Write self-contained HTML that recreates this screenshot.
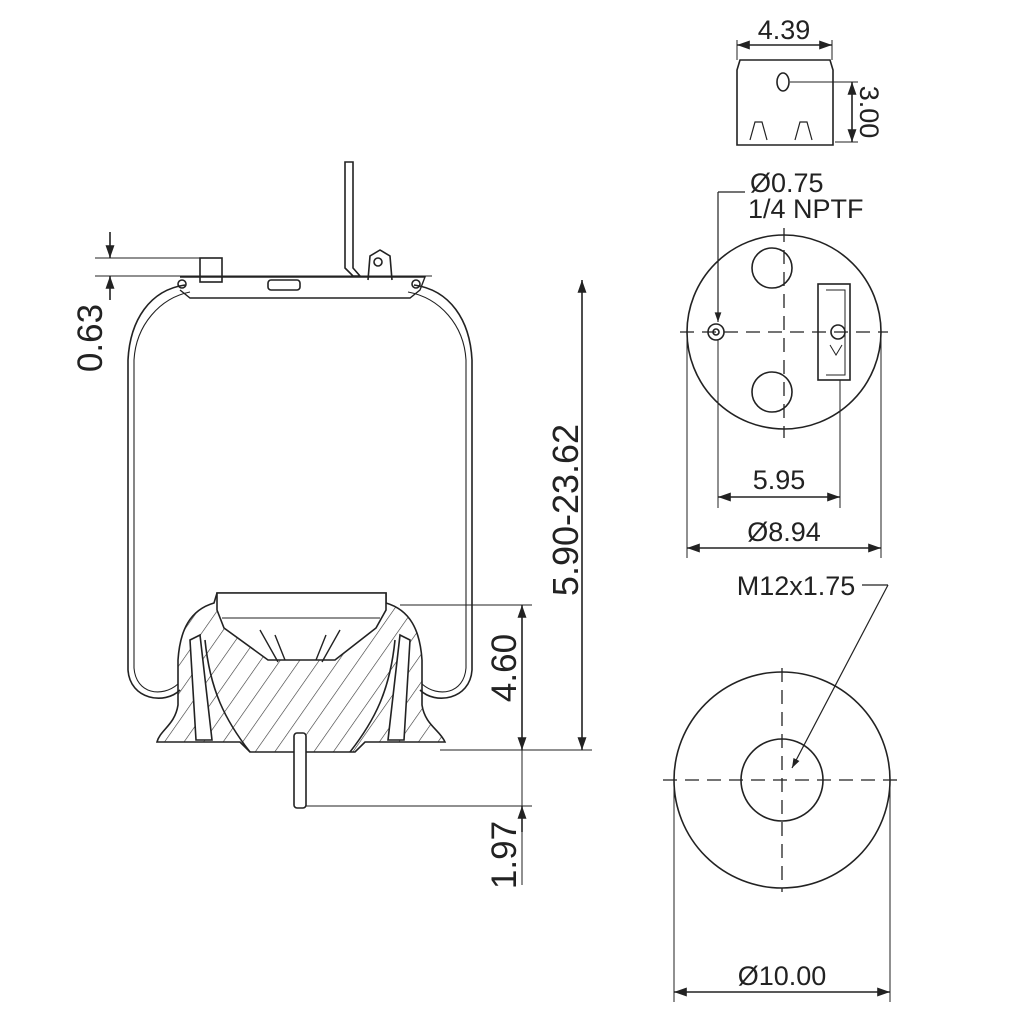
<!DOCTYPE html>
<html><head><style>body{margin:0;background:#fff}svg{display:block}</style></head><body>
<svg width="1024" height="1024" viewBox="0 0 1024 1024" xmlns="http://www.w3.org/2000/svg" font-family="Liberation Sans, sans-serif">
<defs>
<marker id="a" viewBox="0 0 10 10" refX="10" refY="5" markerWidth="10" markerHeight="8" orient="auto-start-reverse"><path d="M0,1.5L10,5L0,8.5z" fill="#222"/></marker>
<pattern id="h" width="16" height="16" patternUnits="userSpaceOnUse" patternTransform="rotate(35)"><line x1="0" y1="0" x2="0" y2="16" stroke="#333" stroke-width="1.2"/></pattern>
</defs>
<g fill="none" stroke="#222" stroke-width="1.6">
<path d="M737,70 L740,60 L830,60 L833,70 L833,145 L737,145 Z"/>
<ellipse cx="783" cy="82" rx="6" ry="9"/>
<path d="M750,140 L755,122 L762,122 L767,140 M795,140 L800,122 L807,122 L812,140" stroke-width="1.2"/>
<line x1="737" y1="45" x2="832" y2="45" marker-start="url(#a)" marker-end="url(#a)"/>
<line x1="737" y1="40" x2="737" y2="60" stroke-width="1"/><line x1="832" y1="40" x2="832" y2="60" stroke-width="1"/>
<line x1="790" y1="82" x2="858" y2="82" stroke-width="1"/><line x1="835" y1="142" x2="858" y2="142" stroke-width="1"/>
<line x1="852" y1="82" x2="852" y2="142" marker-start="url(#a)" marker-end="url(#a)"/>
<circle cx="784" cy="332" r="97"/>
<circle cx="772" cy="268" r="20"/><circle cx="772" cy="392" r="20"/>
<circle cx="716" cy="332" r="8"/><circle cx="716" cy="332" r="3"/>
<rect x="818" y="284" width="32" height="96"/>
<path d="M826,290 L845,290 L845,375 L826,375" stroke-width="1"/>
<circle cx="838" cy="332" r="7"/>
<path d="M830,345 L836,355 L842,345" stroke-width="1"/>
<line x1="680" y1="332" x2="888" y2="332" stroke-dasharray="14,8" stroke-width="1.3"/>
<line x1="784" y1="228" x2="784" y2="438" stroke-dasharray="14,8" stroke-width="1.3"/>
<line x1="745" y1="192" x2="718" y2="192" stroke-width="1.2"/>
<line x1="718" y1="192" x2="718" y2="322" marker-end="url(#a)" stroke-width="1.2"/>
<line x1="718" y1="340" x2="718" y2="508" stroke-width="1"/>
<line x1="840" y1="380" x2="840" y2="508" stroke-width="1"/>
<line x1="718" y1="497" x2="840" y2="497" marker-start="url(#a)" marker-end="url(#a)"/>
<line x1="687" y1="335" x2="687" y2="558" stroke-width="1"/>
<line x1="881" y1="335" x2="881" y2="558" stroke-width="1"/>
<line x1="687" y1="548" x2="881" y2="548" marker-start="url(#a)" marker-end="url(#a)"/>
<circle cx="782" cy="780" r="108"/>
<circle cx="782" cy="780" r="41"/>
<line x1="663" y1="780" x2="900" y2="780" stroke-dasharray="14,8" stroke-width="1.3"/>
<line x1="782" y1="668" x2="782" y2="892" stroke-dasharray="14,8" stroke-width="1.3"/>
<line x1="862" y1="585" x2="888" y2="585" stroke-width="1.2"/>
<line x1="888" y1="585" x2="792" y2="768" marker-end="url(#a)" stroke-width="1.2"/>
<line x1="674" y1="780" x2="674" y2="1002" stroke-width="1"/>
<line x1="890" y1="780" x2="890" y2="1002" stroke-width="1"/>
<line x1="674" y1="992" x2="890" y2="992" marker-start="url(#a)" marker-end="url(#a)"/>
<path d="M345,162 L345,268 L353,276 L360,276 L353,268 L353,162 Z"/>
<path d="M180,277 L425,277 L420,290 L410,298 L190,298 L180,290" stroke-width="1.4"/>
<rect x="200" y="258" width="22" height="24"/>
<rect x="268" y="280" width="32" height="10" rx="3"/>
<path d="M368,280 L370,256 L380,250 L390,256 L392,280" />
<circle cx="378" cy="262" r="4"/>
<circle cx="182" cy="284" r="4"/><circle cx="416" cy="284" r="4"/>
<path d="M185,285 C150,290 130,320 128,360 L128,670 C130,700 165,705 180,690" stroke-width="1.6"/>
<path d="M190,292 C160,298 136,325 134,360 L134,668 C136,694 162,698 178,684" stroke-width="1.1"/>
<path d="M414,285 C450,290 470,320 472,360 L472,670 C470,700 435,705 420,690" stroke-width="1.6"/>
<path d="M408,292 C440,298 464,325 466,360 L466,668 C464,694 438,698 422,684" stroke-width="1.1"/>
<path d="M214,603 C190,610 180,630 178,660 L178,705 C175,725 160,730 157,742 L240,742 L250,752 L355,752 L365,742 L445,742 C440,730 425,725 422,705 L422,660 C420,630 410,610 386,603 L386,593 L217,593 Z" fill="url(#h)"/>
<path d="M217,593 L386,593 L386,610 L376,628 L335,660 L268,660 L224,628 L217,610 Z" fill="#fff"/>
<path d="M222,618 L380,618" stroke-width="1"/>
<path d="M260,630 L278,662 M275,635 L285,660 M340,630 L322,662 M326,635 L316,660" stroke-width="1.4"/>
<path d="M205,640 C210,690 225,720 250,752 M395,640 C390,690 375,720 350,752" />
<path d="M190,640 L200,635 L212,740 L196,740 Z M410,640 L400,635 L388,740 L404,740 Z" fill="#fff"/>
<rect x="294" y="733" width="12" height="75" rx="3" fill="#fff"/>
<line x1="95" y1="258" x2="215" y2="258" stroke-width="1"/>
<line x1="95" y1="276" x2="432" y2="276" stroke-width="1"/>
<line x1="110" y1="232" x2="110" y2="258" marker-end="url(#a)"/>
<line x1="110" y1="300" x2="110" y2="276" marker-end="url(#a)"/>
<line x1="582" y1="280" x2="582" y2="750" marker-start="url(#a)" marker-end="url(#a)"/>
<line x1="440" y1="750" x2="592" y2="750" stroke-width="1"/>
<line x1="400" y1="605" x2="532" y2="605" stroke-width="1"/>
<line x1="522" y1="605" x2="522" y2="750" marker-start="url(#a)" marker-end="url(#a)"/>
<line x1="306" y1="806" x2="532" y2="806" stroke-width="1"/>
<line x1="522" y1="750" x2="522" y2="885" stroke-width="1"/>
<line x1="522" y1="832" x2="522" y2="806" marker-end="url(#a)"/>
</g>
<g fill="#222" font-size="27">
<text x="784" y="39" text-anchor="middle">4.39</text>
<text transform="translate(860,112) rotate(90)" text-anchor="middle">3.00</text>
<text x="750" y="192">Ø0.75</text>
<text x="748" y="218">1/4 NPTF</text>
<text x="779" y="489" text-anchor="middle">5.95</text>
<text x="784" y="541" text-anchor="middle">Ø8.94</text>
<text x="796" y="595" text-anchor="middle">M12x1.75</text>
<text x="782" y="985" text-anchor="middle">Ø10.00</text>
<text transform="translate(102,338) rotate(-90)" text-anchor="middle" font-size="35">0.63</text>
<text transform="translate(578,510) rotate(-90)" text-anchor="middle" font-size="36">5.90-23.62</text>
<text transform="translate(516,668) rotate(-90)" text-anchor="middle" font-size="35">4.60</text>
<text transform="translate(516,855) rotate(-90)" text-anchor="middle" font-size="35">1.97</text>
</g>
</svg>
</body></html>
